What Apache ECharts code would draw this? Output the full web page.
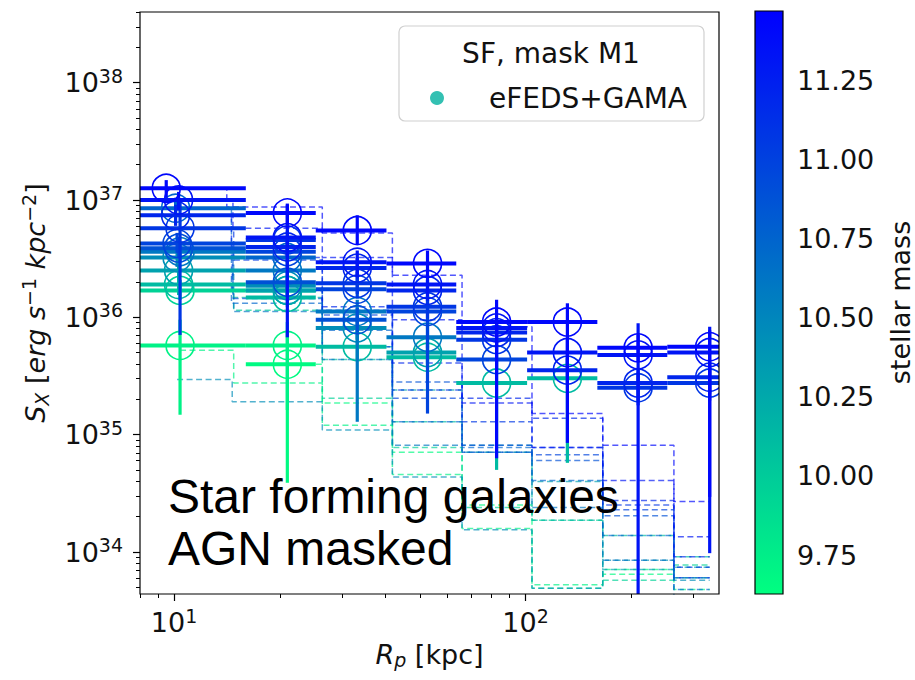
<!DOCTYPE html>
<html>
<head>
<meta charset="utf-8">
<title>SF surface brightness profiles</title>
<script src="https://cdn.jsdelivr.net/npm/echarts@6/dist/echarts.min.js"></script>
<style>
  html, body { margin: 0; padding: 0; background: #fff; }
  #chart { width: 915px; height: 680px; }
</style>
</head>
<body>
<div id="chart"></div>
<script>
// Projected radius: mean radius of each annulus and the annulus edges [kpc]
const radii = [10.1, 21.0, 33.2, 52.6, 82.7, 131.5, 209, 334];
const binEdges = [6.3, 16.0, 25.3, 40.2, 63.5, 101, 160, 253, 400];

// One profile per stellar-mass bin (log10 M*/Msun), most massive first
const stellarMass = [11.42, 11.32, 11.20, 11.08, 10.98, 10.88, 10.74, 10.60, 10.45, 10.30, 10.12, 9.95, 9.72, 9.66];
// mean radius of the innermost annulus differs slightly between mass bins
const innerRadius = [9.5, 10.3, 10.1, 10.4, 10.2, 10.3, 10.1, 10.4, 10.2, 10.3, 10.3, 10.4, 10.4, 10.3];

// log10 S_X [erg s^-1 kpc^-2] per annulus (null: no measurement)
const logSx = [
  [37.10, 36.89, 36.74, 36.46, 35.96, 35.96, 35.74, 35.75],
  [37.00, 36.68, 36.47, 36.28, 35.91, 35.70, 35.68, 35.70],
  [36.87, 36.60, 36.42, 36.23, 35.87, 35.55, 35.44, 35.49],
  [36.76, 36.66, 36.29, 36.09, 35.81, null, 35.40, 35.44],
  [36.63, 36.56, 36.24, 36.05, 35.64, null, null, null],
  [36.59, 36.30, 35.98, null, null, null, null, null],
  [36.93, 36.51, null, null, null, null, null, null],
  [36.56, 36.40, 36.05, 35.83, null, null, null, null],
  [36.51, 36.27, 35.91, null, null, null, null, null],
  [36.40, 36.23, null, 35.70, null, null, null, null],
  [36.28, 36.17, 35.75, 35.66, 35.44, 35.48, null, null],
  [36.23, 36.23, null, null, null, null, null, null],
  [35.76, 35.76, null, null, null, null, null, null],
  [null, 35.60, null, null, null, null, null, null]
];
// upper end of the 1-sigma interval (log10)
const logSxHi = [
  [37.17, 36.97, 36.87, 36.57, 36.15, 36.12, 35.85, 35.89],
  [37.07, 36.96, 36.57, 36.36, 35.99, 35.81, 35.95, 35.92],
  [36.96, 36.68, 36.51, 36.32, 35.96, 35.65, 35.57, 35.61],
  [37.00, 36.74, 36.39, 36.18, 35.91, null, 35.53, 35.57],
  [36.72, 36.64, 36.33, 36.15, 35.74, null, null, null],
  [36.68, 36.39, 36.08, null, null, null, null, null],
  [37.02, 36.59, null, null, null, null, null, null],
  [36.64, 36.49, 36.15, 35.93, null, null, null, null],
  [36.60, 36.35, 36.01, null, null, null, null, null],
  [36.49, 36.32, null, 35.79, null, null, null, null],
  [36.36, 36.26, 35.85, 35.76, 35.68, 35.66, null, null],
  [36.32, 36.32, null, null, null, null, null, null],
  [35.98, 35.96, null, null, null, null, null, null],
  [null, 35.89, null, null, null, null, null, null]
];
// lower end of the 1-sigma interval (log10)
const logSxLo = [
  [37.02, 36.79, 36.62, 36.34, 34.80, 34.93, 35.62, 34.47],
  [36.91, 35.83, 36.36, 36.18, 35.81, 35.58, 32.50, 33.99],
  [36.78, 36.51, 36.33, 36.14, 35.76, 35.43, 35.29, 35.35],
  [35.85, 36.57, 36.20, 35.99, 35.70, null, 35.25, 35.29],
  [36.55, 36.47, 36.16, 35.18, 35.53, null, null, null],
  [36.51, 36.22, 35.87, null, null, null, null, null],
  [36.85, 36.42, null, null, null, null, null, null],
  [36.47, 36.32, 35.11, 35.74, null, null, null, null],
  [36.43, 36.18, 35.81, null, null, null, null, null],
  [36.32, 36.15, null, 35.60, null, null, null, null],
  [36.19, 36.09, 35.64, 35.56, 34.70, 34.76, null, null],
  [36.15, 36.15, null, null, null, null, null, null],
  [35.17, 35.21, null, null, null, null, null, null],
  [null, 34.59, null, null, null, null, null, null]
];
// dashed step profiles (log10)
const logSxStep = [
  [37.10, 36.94, 36.72, 36.36, 35.92, 35.18, 34.91, 34.43],
  [37.00, 36.76, 36.51, 35.98, 35.27, 34.89, 34.61, 34.13],
  [36.87, 36.51, 36.09, 35.61, 35.31, 35.14, 34.44, 33.96],
  [36.76, 36.49, 36.06, 35.38, 35.11, 34.89, 34.40, 33.87],
  [36.63, 36.23, 36.02, 35.31, 34.91, 34.83, 34.36, 33.78],
  [36.59, 36.16, 35.75, 35.45, 34.85, 34.78, 34.31, 33.78],
  [36.93, 36.12, 35.89, 35.11, 34.89, 34.61, 34.14, 33.68],
  [36.56, 36.05, 35.64, 34.91, 34.85, 34.38, 33.93, 33.59],
  [35.47, 35.28, 35.04, 34.64, 34.19, 33.69, 33.93, 33.76],
  [36.40, 36.23, 35.75, 35.38, 34.91, 34.60, 33.85, 33.87],
  [36.28, 36.17, 35.64, 35.11, 34.85, 34.27, 34.14, 33.96],
  [36.23, 36.06, 35.31, 34.89, 34.38, 34.27, 33.76, 33.89],
  [35.72, 35.44, 35.08, 34.66, 34.20, 33.72, 33.85, 33.78],
  [null, 35.60, 35.27, 34.85, 34.40, 33.69, 33.81, 33.68]
];

// Axis ticks
const xMajorTicks = [10, 100];
const xMinorTicks = [8, 9, 20, 30, 40, 50, 60, 70, 80, 90, 200, 300];
const yMajorTicks = [1e34, 1e35, 1e36, 1e37, 1e38];
const massTicks = [9.75, 10.00, 10.25, 10.50, 10.75, 11.00, 11.25];

const yMinorTicks = [];
for (let e = 33; e <= 38; e++) {
  for (let k = 2; k <= 9; k++) yMinorTicks.push(k * Math.pow(10, e));
}

// Axis ranges
const rMin = 8, rMax = 355;
const sxMin = Math.pow(10, 33.642), sxMax = Math.pow(10, 38.603);
const massMin = 9.627, massMax = 11.468;

const FONT = 'DejaVu Sans';
const INK = '#111';
const legendColor = '#00b09f';

// reversed "winter" colour map: blue at high mass, spring green at low mass
function winterR(m) {
  const t = Math.min(1, Math.max(0, (massMax - m) / (massMax - massMin)));
  return 'rgb(0,' + Math.round(255 * t) + ',' + Math.round(255 * (1 - 0.5 * t)) + ')';
}
const lin = v => Math.pow(10, v);

const powRich = {
  b: { fontFamily: FONT, fontSize: 27, color: INK },
  s: { fontFamily: FONT, fontSize: 19, color: INK, padding: [0, 0, 14, 0] }
};
const powLabel = v => '{b|10}{s|' + Math.round(Math.log10(v)) + '}';

const series = [];

// draw the least massive profile first so the blue profiles lie on top
for (let i = stellarMass.length - 1; i >= 0; i--) {
  const color = winterR(stellarMass[i]);

  const stepData = [];
  for (let j = 0; j < radii.length; j++) {
    if (logSxStep[i][j] == null) continue;
    stepData.push([j === 0 ? innerRadius[i] : radii[j], lin(logSxStep[i][j])]);
  }
  series.push({
    type: 'line',
    step: 'middle',
    xAxisIndex: 0, yAxisIndex: 0,
    data: stepData,
    symbol: 'none',
    silent: true,
    z: 2,
    lineStyle: { color: color, width: 1.5, type: [6, 3.5], opacity: 0.68 }
  });

  const pts = [];
  for (let j = 0; j < radii.length; j++) {
    if (logSx[i][j] == null) continue;
    pts.push([
      j === 0 ? innerRadius[i] : radii[j],
      lin(logSx[i][j]), lin(logSxLo[i][j]), lin(logSxHi[i][j]),
      binEdges[j], binEdges[j + 1]
    ]);
  }
  series.push({
    type: 'custom',
    xAxisIndex: 0, yAxisIndex: 0,
    clip: true,
    silent: true,
    z: 3,
    data: pts,
    encode: { x: 0, y: 1 },
    renderItem: function (params, api) {
      const x = api.value(0), y = api.value(1);
      const c = api.coord([x, y]);
      const l = api.coord([api.value(4), y]);
      const r = api.coord([api.value(5), y]);
      const lo = api.coord([x, api.value(2)]);
      const hi = api.coord([x, api.value(3)]);
      return {
        type: 'group',
        children: [
          { type: 'line', shape: { x1: l[0], y1: c[1], x2: r[0], y2: c[1] },
            style: { stroke: color, lineWidth: 4 } },
          { type: 'line', shape: { x1: c[0], y1: hi[1], x2: c[0], y2: lo[1] },
            style: { stroke: color, lineWidth: 3.2 } },
          { type: 'circle', shape: { cx: c[0], cy: c[1], r: 14 },
            style: { fill: 'none', stroke: color, lineWidth: 1.6 } }
        ]
      };
    }
  });
}

// legend entry
series.push({
  type: 'scatter', name: 'eFEDS+GAMA', xAxisIndex: 0, yAxisIndex: 0,
  data: [], itemStyle: { color: legendColor }
});

// colour bar
series.push({
  type: 'custom',
  xAxisIndex: 2, yAxisIndex: 2,
  silent: true,
  z: 5,
  data: [[0, massMin, 1, massMax]],
  renderItem: function (params, api) {
    const p0 = api.coord([api.value(0), api.value(3)]);
    const p1 = api.coord([api.value(2), api.value(1)]);
    return {
      type: 'rect',
      shape: { x: p0[0], y: p0[1], width: p1[0] - p0[0], height: p1[1] - p0[1] },
      style: {
        fill: new echarts.graphic.LinearGradient(0, 0, 0, 1, [
          { offset: 0, color: winterR(massMax) },
          { offset: 1, color: winterR(massMin) }
        ]),
        stroke: '#000',
        lineWidth: 1.2
      }
    };
  }
});

const option = {
  animation: false,
  backgroundColor: '#fff',
  grid: [
    { left: 140, top: 12, width: 579, height: 582, show: true, borderColor: '#000',
      borderWidth: 1.2, backgroundColor: 'transparent', z: 10 },
    { left: 755, top: 11, width: 29, height: 583, show: false }
  ],
  xAxis: [
    {
      gridIndex: 0, type: 'log', logBase: 10, min: rMin, max: rMax, position: 'bottom',
      axisLine: { show: false }, splitLine: { show: false },
      axisTick: { show: true, customValues: xMajorTicks, length: 7, lineStyle: { color: '#000', width: 1.2 } },
      axisLabel: { customValues: xMajorTicks, formatter: powLabel, margin: 12, rich: powRich },
      name: '{i|R}{sub|p} [kpc]',
      nameLocation: 'middle', nameGap: 44,
      nameTextStyle: {
        fontFamily: FONT, fontSize: 27, color: INK,
        rich: {
          i: { fontFamily: FONT, fontSize: 27, fontStyle: 'italic', color: INK },
          sub: { fontFamily: FONT, fontSize: 19, fontStyle: 'italic', color: INK, padding: [12, 0, 0, 0] }
        }
      }
    },
    {
      gridIndex: 0, type: 'log', logBase: 10, min: rMin, max: rMax, position: 'bottom',
      axisLine: { show: false }, splitLine: { show: false },
      axisTick: { show: true, customValues: xMinorTicks, length: 4, lineStyle: { color: '#000', width: 1 } },
      axisLabel: { show: false }
    },
    { gridIndex: 1, type: 'value', min: 0, max: 1, show: false }
  ],
  yAxis: [
    {
      gridIndex: 0, type: 'log', logBase: 10, min: sxMin, max: sxMax, position: 'left',
      axisLine: { show: false }, splitLine: { show: false },
      axisTick: { show: true, customValues: yMajorTicks, length: 7, lineStyle: { color: '#000', width: 1.2 } },
      axisLabel: { customValues: yMajorTicks, formatter: powLabel, margin: 17, rich: powRich },
      name: '{i|S}{sub|X} [{i|erg s}{sup|\u22121}{i| kpc}{sup|\u22122}]',
      nameLocation: 'middle', nameRotate: 90, nameGap: 88,
      nameTextStyle: {
        fontFamily: FONT, fontSize: 27, color: INK,
        rich: {
          i: { fontFamily: FONT, fontSize: 27, fontStyle: 'italic', color: INK },
          sub: { fontFamily: FONT, fontSize: 19, fontStyle: 'italic', color: INK, padding: [12, 0, 0, 0] },
          sup: { fontFamily: FONT, fontSize: 19, color: INK, padding: [0, 0, 14, 0] }
        }
      }
    },
    {
      gridIndex: 0, type: 'log', logBase: 10, min: sxMin, max: sxMax, position: 'left',
      axisLine: { show: false }, splitLine: { show: false },
      axisTick: { show: true, customValues: yMinorTicks, length: 4, lineStyle: { color: '#000', width: 1 } },
      axisLabel: { show: false }
    },
    {
      gridIndex: 1, type: 'value', min: massMin, max: massMax, position: 'right',
      axisLine: { show: false }, splitLine: { show: false },
      axisTick: { show: true, customValues: massTicks, length: 6, lineStyle: { color: '#000', width: 1.2 } },
      axisLabel: {
        customValues: massTicks, margin: 14,
        formatter: v => v.toFixed(2),
        fontFamily: FONT, fontSize: 27, color: INK
      },
      name: 'stellar mass', nameLocation: 'middle', nameRotate: 90, nameGap: 104,
      nameTextStyle: { fontFamily: FONT, fontSize: 27, color: INK }
    }
  ],
  legend: {
    data: [{ name: 'eFEDS+GAMA', icon: 'circle' }],
    left: 430, top: 84, padding: 0,
    itemWidth: 14, itemHeight: 14,
    selectedMode: false,
    z: 120,
    textStyle: { fontFamily: FONT, fontSize: 28, color: INK, padding: [0, 0, 0, 40] }
  },
  graphic: [
    { type: 'rect', x: 399, y: 26, z: 100,
      shape: { width: 305, height: 95, r: 6 },
      style: { fill: 'rgba(255,255,255,0.8)', stroke: '#d0d0d0', lineWidth: 1.2 } },
    { type: 'text', x: 551, y: 53, z: 110,
      style: { text: 'SF, mask M1', fontFamily: FONT, fontSize: 28, fill: INK,
               align: 'center', verticalAlign: 'middle' } },
    { type: 'text', x: 168, y: 496, z: 100,
      style: { text: 'Star forming galaxies', fontFamily: 'Liberation Sans', fontSize: 48,
               fill: '#000', align: 'left', verticalAlign: 'middle' } },
    { type: 'text', x: 168, y: 548, z: 100,
      style: { text: 'AGN masked', fontFamily: 'Liberation Sans', fontSize: 48,
               fill: '#000', align: 'left', verticalAlign: 'middle' } }
  ],
  series: series
};

const chart = echarts.init(document.getElementById('chart'), null, { renderer: 'svg' });
chart.setOption(option);
</script>
</body>
</html>
